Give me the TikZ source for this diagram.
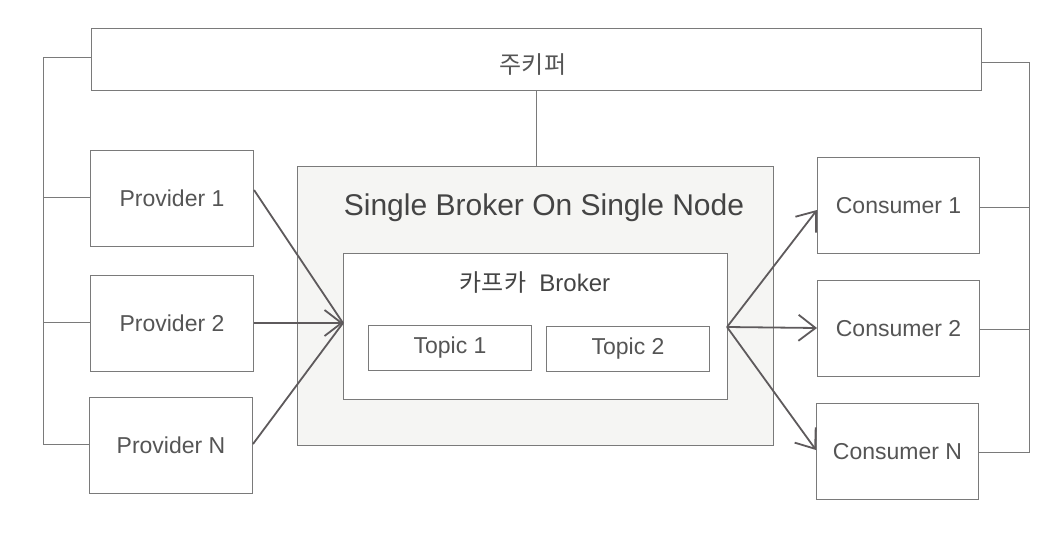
\documentclass[tikz,border=0pt]{standalone}
\usepackage{fontspec}
\setmainfont{Liberation Sans}
\newfontfamily\kr{Noto Sans CJK KR}
\usetikzlibrary{arrows.meta}
\definecolor{linegray}{HTML}{7A7A7A}
\definecolor{arrowgray}{HTML}{5E5A5C}
\definecolor{textgray}{HTML}{555555}
\definecolor{fillgray}{HTML}{F5F5F3}
\begin{document}
\begin{tikzpicture}[x=1pt,y=-1pt,
  box/.style={draw=linegray,line width=1pt,fill=white,inner sep=0pt,anchor=north west,text=textgray,font=\fontsize{23}{26}\selectfont},
  bus/.style={draw=linegray,line width=1pt},
  flow/.style={draw=arrowgray,line width=1.8pt,-{Straight Barb[length=17pt,width=26pt]}},
  flowplain/.style={draw=arrowgray,line width=1.8pt}]
\useasboundingbox (0,0) rectangle (1057,535);
% ZooKeeper
\node[box,minimum width=890pt,minimum height=62pt] (zk) at (91,28) {};
\node[text=textgray,font=\kr\fontsize{24}{26}\selectfont] (zkt) at (533,65) {주키퍼};
% Broker outer
\node[draw=linegray,line width=1pt,fill=fillgray,anchor=north west,minimum width=476pt,minimum height=279pt,inner sep=0pt] (outer) at (297,166) {};
\node[text=textgray!80!black,font=\fontsize{30}{32}\selectfont] (outert) at (544,208) {Single Broker On Single Node};
% inner broker
\node[box,minimum width=384pt,minimum height=146pt] (inner) at (343,253) {};
\node[text=textgray!80!black,font=\fontsize{24}{26}\selectfont] (innert) at (535,282) {{\kr 카프카}\ \ Broker};
\node[box,minimum width=163pt,minimum height=45pt,anchor=center] (t1) at (450,348) {Topic 1};
\node[box,minimum width=163pt,minimum height=45pt,anchor=center] (t2) at (628,349) {Topic 2};
% providers
\node[box,minimum width=163pt,minimum height=96pt] (p1) at (90,150) {Provider 1};
\node[box,minimum width=163pt,minimum height=96pt] (p2) at (90,275) {Provider 2};
\node[box,minimum width=163pt,minimum height=96pt] (pn) at (89,397) {Provider N};
% consumers
\node[box,minimum width=162pt,minimum height=96pt] (c1) at (817,157) {Consumer 1};
\node[box,minimum width=162pt,minimum height=96pt] (c2) at (817,280) {Consumer 2};
\node[box,minimum width=162pt,minimum height=96pt] (cn) at (816,403) {Consumer N};
% buses
\coordinate (lt) at (43,58);
\coordinate (lb) at (43,444);
\coordinate (rt) at (1029,63);
\coordinate (rb) at (1029,452);
\draw[bus] (zk.west |- lt) -- (lt) -- (lb) -- (pn.west |- lb);
\draw[bus] (43,197) -- (p1.west |- 0,197);
\draw[bus] (43,322) -- (p2.west |- 0,322);
\draw[bus] (zk.east |- rt) -- (rt) -- (rb) -- (cn.east |- rb);
\draw[bus] (c1.east |- 0,207) -- (1029,207);
\draw[bus] (c2.east |- 0,329) -- (1029,329);
\draw[bus] (zk.south -| 536,0) -- (outer.north -| 536,0);
% arrows in
\coordinate (in) at (343,323);
\draw[flowplain] (p1.east |- 0,190) -- (in);
\draw[flowplain] (pn.east |- 0,444) -- (in);
\draw[flow] (p2.east |- 0,323) -- (in);
% arrows out
\coordinate (out) at (727,327);
\draw[flow] (out) -- (c1.west |- 0,210);
\draw[flow] (out) -- (c2.west |- 0,328);
\draw[flow] (out) -- (cn.west |- 0,450);
\end{tikzpicture}
\end{document}
